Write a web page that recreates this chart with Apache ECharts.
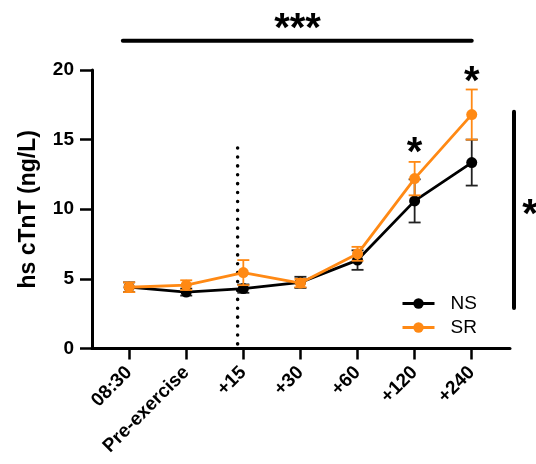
<!DOCTYPE html>
<html>
<head>
<meta charset="utf-8">
<script src="https://cdn.jsdelivr.net/npm/echarts@6/dist/echarts.min.js"></script>
<style>
html,body{margin:0;padding:0;background:#fff;}
#main{width:536px;height:464px;}
</style>
</head>
<body>
<div id="main"></div>
<script>
// time points
var categories = ['08:30', 'Pre-exercise', '+15', '+30', '+60', '+120', '+240'];
// NS group mean and error
var nsMean = [4.4, 4.05, 4.3, 4.75, 6.35, 10.6, 13.35];
var nsErr = [0.35, 0.25, 0.3, 0.4, 0.7, 1.55, 1.65];
// SR group mean and error
var srMean = [4.4, 4.55, 5.45, 4.7, 6.8, 12.2, 16.8];
var srErr = [0.35, 0.35, 0.9, 0.3, 0.5, 1.2, 1.8];
var yTicks = [0, 5, 10, 15, 20];

var black = '#000000';
var orange = '#FF8914';
var font = 'Liberation Sans, Arial, sans-serif';

function pts(mean) {
	var out = [];
	for (var i in mean) out.push([+i, mean[i]]);
	return out;
}
function errs(mean, err) {
	var out = [];
	for (var i in mean) out.push([+i, mean[i] - err[i], mean[i] + err[i]]);
	return out;
}
function errorSeries(name, mean, err, color, z) {
	return {
		name: name + '-err',
		type: 'custom',
		z: z,
		silent: true,
		data: errs(mean, err),
		renderItem: function (params, api) {
			var lo = api.coord([api.value(0), api.value(1)]);
			var hi = api.coord([api.value(0), api.value(2)]);
			var w = 6;
			var st = { stroke: color, lineWidth: 1.8 };
			return {
				type: 'group',
				children: [
					{ type: 'line', shape: { x1: lo[0], y1: lo[1], x2: hi[0], y2: hi[1] }, style: st },
					{ type: 'line', shape: { x1: lo[0] - w, y1: lo[1], x2: lo[0] + w, y2: lo[1] }, style: st },
					{ type: 'line', shape: { x1: hi[0] - w, y1: hi[1], x2: hi[0] + w, y2: hi[1] }, style: st }
				]
			};
		}
	};
}
function lineSeries(name, mean, color, z) {
	return {
		name: name,
		type: 'line',
		z: z,
		data: pts(mean),
		symbol: 'circle',
		symbolSize: 11,
		itemStyle: { color: color },
		lineStyle: { color: color, width: 2.8 },
		emphasis: { disabled: true }
	};
}

var myChart = echarts.init(document.getElementById('main'));
var option = {
	animation: false,
	backgroundColor: '#fff',
	grid: { left: 92, right: 26, top: 70, bottom: 115.5, outerBoundsMode: 'none' },
	legend: {
		data: ['NS', 'SR'],
		orient: 'vertical',
		left: 401,
		top: 294,
		padding: 0,
		itemWidth: 32,
		itemHeight: 13,
		itemGap: 5,
		lineStyle: { width: 3 },
		textStyle: { fontFamily: font, fontSize: 19, color: black, padding: [0, 0, 0, 11] }
	},
	xAxis: {
		type: 'value',
		min: -0.65,
		max: 6.67,
		axisLine: { lineStyle: { color: black, width: 3 } },
		axisTick: { customValues: [0, 1, 2, 3, 4, 5, 6], length: 11, lineStyle: { color: black, width: 2.5 } },
		axisLabel: {
			customValues: [0, 1, 2, 3, 4, 5, 6],
			rotate: 45,
			margin: 21,
			fontFamily: font,
			fontWeight: 'bold',
			fontSize: 19,
			color: black,
			formatter: function (v) { return categories[Math.round(v)]; }
		},
		splitLine: { show: false }
	},
	yAxis: {
		type: 'value',
		min: yTicks[0],
		max: yTicks[yTicks.length - 1],
		interval: 5,
		name: 'hs cTnT (ng/L)',
		nameLocation: 'middle',
		nameGap: 52,
		nameTextStyle: { fontFamily: font, fontWeight: 'bold', fontSize: 23, color: black },
		axisLine: { show: true, onZero: false, lineStyle: { color: black, width: 3 } },
		axisTick: { show: true, length: 12, lineStyle: { color: black, width: 2.5 } },
		axisLabel: { margin: 18, fontFamily: font, fontWeight: 'bold', fontSize: 19, color: black },
		splitLine: { show: false }
	},
	series: [
		errorSeries('NS', nsMean, nsErr, '#222', 2),
		lineSeries('NS', nsMean, black, 3),
		errorSeries('SR', srMean, srErr, orange, 4),
		lineSeries('SR', srMean, orange, 5)
	]
};
myChart.setOption(option);

// significance annotations placed in data coordinates
function px(x, y) { return myChart.convertToPixel({ gridIndex: 0 }, [x, y]); }
var topL = px(-0.11, 22.1), topR = px(6.0, 22.1);
var topStar = px(2.95, 22.85);
var vTop = px(6.74, 17.0), vBot = px(6.74, 2.9);
var vStar = px(7.02, 9.5);
var dotTop = px(1.9, 14.4), dotBot = px(1.9, 0);
var star120 = px(5, 14.0), star240 = px(6, 19.05);
function star(p, txt) {
	return { type: 'text', x: p[0], y: p[1], z: 100, style: { text: txt, font: 'bold 40px ' + font, fill: black, align: 'center', verticalAlign: 'middle' } };
}
myChart.setOption({
	graphic: [
		{ type: 'line', z: 100, shape: { x1: topL[0], y1: topL[1], x2: topR[0], y2: topR[1] }, style: { stroke: black, lineWidth: 4, lineCap: 'round' } },
		{ type: 'line', z: 100, shape: { x1: vTop[0], y1: vTop[1], x2: vBot[0], y2: vBot[1] }, style: { stroke: black, lineWidth: 4, lineCap: 'round' } },
		{ type: 'line', z: 1, shape: { x1: dotTop[0], y1: dotTop[1], x2: dotBot[0], y2: dotBot[1] }, style: { stroke: black, lineWidth: 3.5, lineCap: 'round', lineDash: [0.1, 8.8] } },
		star(topStar, '***'),
		star(vStar, '*'),
		star(star120, '*'),
		star(star240, '*')
	]
});
</script>
</body>
</html>
